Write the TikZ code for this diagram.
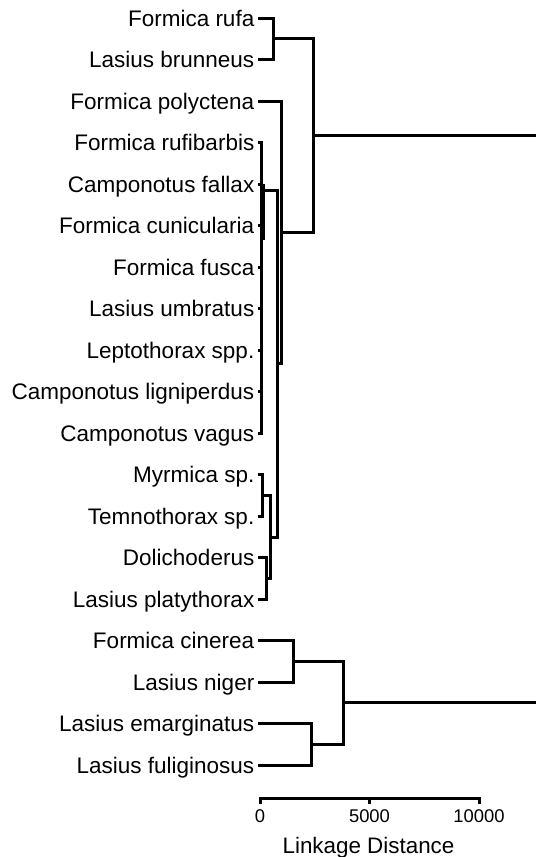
\documentclass[tikz,border=0pt]{standalone}
\usepackage{fontspec}
\setmainfont{Liberation Sans}
\begin{document}
\begin{tikzpicture}[x=1pt,y=-1pt,
  lbl/.style={anchor=base east, inner sep=0pt, font=\fontsize{22.5}{26}\selectfont},
  ticklbl/.style={anchor=base, inner sep=0pt, font=\fontsize{18.4}{20}\selectfont},
  axlbl/.style={anchor=base, inner sep=0pt, font=\fontsize{22.4}{26}\selectfont},
  br/.style={draw, line width=3pt, line cap=butt, line join=miter}]
\useasboundingbox (0,0) rectangle (536,857);
% leaves
\foreach \i/\yy/\t in {1/18/Formica rufa, 2/59.5/Lasius brunneus, 3/101/Formica polyctena,
  4/142.5/Formica rufibarbis, 5/184/Camponotus fallax, 6/225.5/Formica cunicularia,
  7/267/Formica fusca, 8/308.5/Lasius umbratus, 9/350/Leptothorax spp.,
  10/391.5/Camponotus ligniperdus, 11/433/Camponotus vagus, 12/474.5/Myrmica sp.,
  13/516/Temnothorax sp., 14/557.5/Dolichoderus, 15/599/Lasius platythorax,
  16/640.5/Formica cinerea, 17/682/Lasius niger, 18/723.5/Lasius emarginatus,
  19/765/Lasius fuliginosus}{
  \node[lbl] (l\i) at (254.5,\yy+8) {\t};
  \coordinate (e\i) at (258,\yy);
}
% junctions
\coordinate (k1) at (273,38.75);
\coordinate (k2) at (313,135.4);
\coordinate (k3) at (281,232);
\coordinate (k4) at (277,363);
\coordinate (k5) at (263.5,190);
\coordinate (k6) at (270,537);
\coordinate (k7) at (262,495.25);
\coordinate (k8) at (266,578.25);
\coordinate (k9) at (293,661.25);
\coordinate (k10) at (311,744.25);
\coordinate (k11) at (343,702.75);
\coordinate (v2) at (261,433);
\coordinate (w1) at (263.5,184);
\coordinate (w2) at (263.5,240);
\coordinate (r1) at (536,135.4);
\coordinate (r2) at (536,702.75);
% upper clade
\draw[br] (e1) -| (k1) |- (e2);
\draw[br] (k1) -| (k2) |- (k3);
\draw[br] (k2) -- (r1);
\draw[br] (e3) -| (k3) |- (k4);
\draw[br] (k5) -| (k4) |- (k6);
\draw[br] (e4) -| (v2) -- (e11);
\foreach \i in {5,...,10}{\draw[br] (e\i) -- (v2 |- e\i);}
\draw[br] (w1) -- (w2);
\draw[br] (v2 |- k5) -- (k5);
\draw[br] (k7) -| (k6) |- (k8);
\draw[br] (e12) -| (k7) |- (e13);
\draw[br] (e14) -| (k8) |- (e15);
% lower clade
\draw[br] (e16) -| (k9) |- (e17);
\draw[br] (e18) -| (k10) |- (e19);
\draw[br] (k9) -| (k11) |- (k10);
\draw[br] (k11) -- (r2);
% axis
\coordinate (a0) at (260,798);
\coordinate (a1) at (369.5,798);
\coordinate (a2) at (479,798);
\draw[br] ([yshift=-6pt]a0) -- (a0) -- (a2) -- ([yshift=-6pt]a2);
\draw[br] (a1) -- ([yshift=-6pt]a1);
\node[ticklbl] (t0) at (260,822) {0};
\node[ticklbl] (t1) at (369.5,822) {5000};
\node[ticklbl] (t2) at (479,822) {10000};
\node[axlbl] (ax) at (368.5,853) {Linkage Distance};
\end{tikzpicture}
\end{document}
